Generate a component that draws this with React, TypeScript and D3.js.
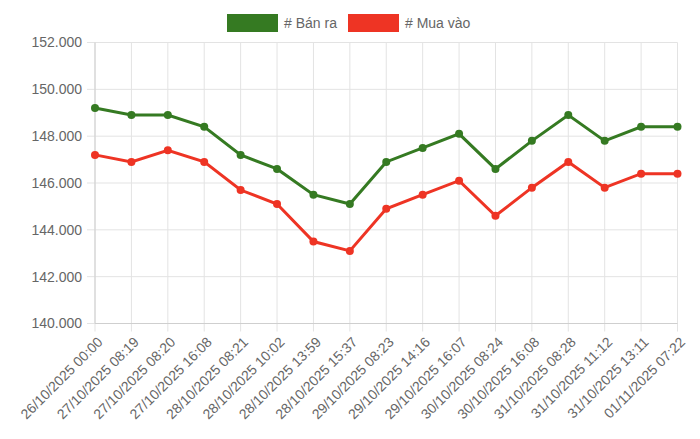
import React, { useRef, useEffect } from 'react'
import * as d3 from 'd3'

const labels = [
  '26/10/2025 00:00', '27/10/2025 08:19', '27/10/2025 08:20', '27/10/2025 16:08',
  '28/10/2025 08:21', '28/10/2025 10:02', '28/10/2025 13:59', '28/10/2025 15:37',
  '29/10/2025 08:23', '29/10/2025 14:16', '29/10/2025 16:07', '30/10/2025 08:24',
  '30/10/2025 16:08', '31/10/2025 08:28', '31/10/2025 11:12', '31/10/2025 13:11',
  '01/11/2025 07:22',
]
const banRa = [
  149200, 148900, 148900, 148400, 147200, 146600, 145500, 145100,
  146900, 147500, 148100, 146600, 147800, 148900, 147800, 148400, 148400,
]
const muaVao = [
  147200, 146900, 147400, 146900, 145700, 145100, 143500, 143100,
  144900, 145500, 146100, 144600, 145800, 146900, 145800, 146400, 146400,
]
const yTicks = [140000, 142000, 144000, 146000, 148000, 150000, 152000]

const series = [
  { name: '# Bán ra', color: '#357a22', values: banRa },
  { name: '# Mua vào', color: '#ee3424', values: muaVao },
]

const W = 700
const H = 439
const left = 95
const right = 677.5
const top = 42.5
const bottom = 323.5
const font = '"Helvetica Neue", Helvetica, Arial, sans-serif'
const fmt = (v: number) => d3.format(',')(v).replace(/,/g, '.')

export default function App() {
  const ref = useRef<SVGSVGElement>(null)

  useEffect(() => {
    const svg = d3.select(ref.current!)
    svg.selectAll('*').remove()

    const x = d3.scalePoint<number>().domain(d3.range(labels.length)).range([left, right])
    const y = d3.scaleLinear().domain([140000, 152000]).range([bottom, top])

    // grid
    const grid = svg.append('g').attr('stroke', '#e3e3e3').attr('stroke-width', 1)
    yTicks.forEach((t) => {
      grid.append('line').attr('x1', left - 8).attr('x2', right).attr('y1', y(t)).attr('y2', y(t))
    })
    labels.forEach((_, i) => {
      grid.append('line').attr('x1', x(i)!).attr('x2', x(i)!).attr('y1', top).attr('y2', bottom + 8)
    })
    svg.append('line').attr('x1', left).attr('x2', left).attr('y1', top).attr('y2', bottom)
      .attr('stroke', '#cfcfcf')
    svg.append('line').attr('x1', left).attr('x2', right).attr('y1', bottom).attr('y2', bottom)
      .attr('stroke', '#cfcfcf')

    // y labels
    svg.append('g').selectAll('text').data(yTicks).enter().append('text')
      .attr('x', left - 13).attr('y', (d) => y(d)).attr('dy', '0.35em')
      .attr('text-anchor', 'end').attr('fill', '#666').attr('font-size', 14)
      .attr('font-family', font).text((d) => fmt(d))

    // x labels
    svg.append('g').selectAll('text').data(labels).enter().append('text')
      .attr('transform', (d, i) => `translate(${x(i)! + 5}, ${bottom + 16}) rotate(-45)`)
      .attr('text-anchor', 'end').attr('dy', '0.35em').attr('fill', '#666')
      .attr('font-size', 14).attr('font-family', font).text((d) => d)

    const line = d3.line<number>().x((d, i) => x(i)!).y((d) => y(d))

    series.forEach((s) => {
      svg.append('path').datum(s.values).attr('fill', 'none').attr('stroke', s.color)
        .attr('stroke-width', 3).attr('d', line)
      svg.append('g').selectAll('circle').data(s.values).enter().append('circle')
        .attr('cx', (d, i) => x(i)!).attr('cy', (d) => y(d)).attr('r', 4).attr('fill', s.color)
    })

    // legend
    const lg = svg.append('g')
    const boxW = 51
    const items = [
      { x: 227, s: series[0] },
      { x: 348, s: series[1] },
    ]
    items.forEach(({ x: lx, s }) => {
      lg.append('rect').attr('x', lx).attr('y', 14).attr('width', boxW).attr('height', 18)
        .attr('fill', s.color)
      lg.append('text').attr('x', lx + boxW + 6).attr('y', 23).attr('dy', '0.35em')
        .attr('fill', '#666').attr('font-size', 14).attr('font-family', font).text(s.name)
    })
  }, [])

  return <svg ref={ref} width={W} height={H} style={{ position: 'absolute', left: 0, top: 0 }} />
}
